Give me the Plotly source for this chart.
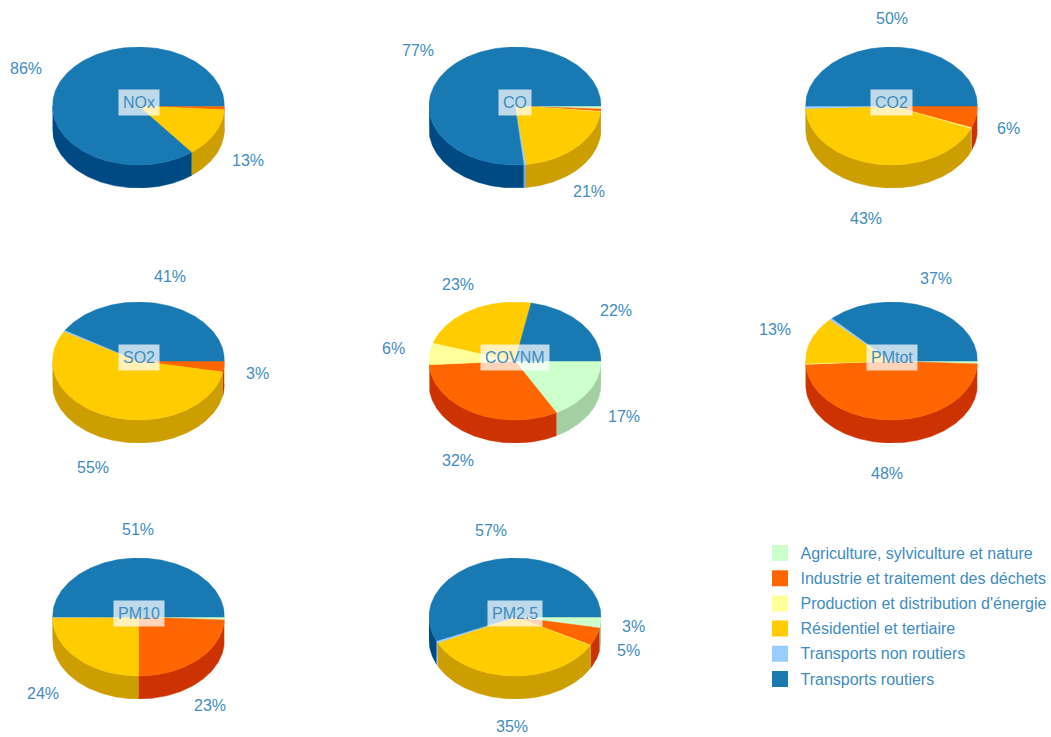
import numpy as np
import plotly.graph_objects as go

# ---- data (percent of regional emissions per sector) ----
SECTORS = ["Agriculture, sylviculture et nature", "Industrie et traitement des déchets",
           "Production et distribution d'énergie", "Résidentiel et tertiaire",
           "Transports non routiers", "Transports routiers"]
POLLUTANTS = ["NOx", "CO", "CO2", "SO2", "COVNM", "PMtot", "PM10", "PM2.5"]
NOX   = [0.1, 0.9, 0.0, 13.4, 0.0, 85.6]
CO    = [0.8, 0.7, 0.1, 21.4, 0.4, 76.6]
CO2   = [0.0, 6.0, 0.3, 43, 0.7, 50]
SO2   = [0.0, 3.0, 0.0, 55, 0.4, 41]
COVNM = [17, 32, 6, 23, 0.0, 22]
PMTOT = [0.8, 48, 0.3, 13, 0.5, 37]
PM10  = [0.8, 24.2, 0.0, 24.8, 0.2, 50]
PM25  = [3.0, 5.0, 0.1, 35, 0.5, 57]
VALUES = [NOX, CO, CO2, SO2, COVNM, PMTOT, PM10, PM25]
PCT_LABELS = [["86%", "13%"], ["77%", "21%"], ["50%", "6%", "43%"], ["41%", "3%", "55%"],
              ["22%", "17%", "32%", "6%", "23%"], ["37%", "13%", "48%"],
              ["51%", "23%", "24%"], ["57%", "3%", "5%", "35%"]]

# ---- styling and layout ----
W, H = 1051, 737
TOP = ["#ccffcc", "#ff6600", "#ffff99", "#ffcc00", "#99ccff", "#1879b3"]
WALL = ["#a3cfa3", "#cc3300", "#cccc7a", "#cc9e00", "#7aa3cc", "#004a84"]
TEXT = "#3f8cbf"
FONT = "Liberation Sans"
CENTERS = [(138.5, 106), (515, 106), (891.5, 106),
           (138.5, 361), (515, 361), (891.5, 361),
           (138.5, 617), (515, 617)]
RX, RY, DEPTH = 86, 59, 23
LABEL_XY = [[(26, 68), (248, 160)], [(418, 50), (589, 191)],
            [(892, 18), (1008, 129), (866, 218)], [(170, 276), (257, 373), (93, 467)],
            [(616, 310), (624, 416), (458, 460), (393, 349), (458, 284)],
            [(936, 279), (775, 329), (887, 474)], [(138, 529), (210, 705), (43, 693)],
            [(491, 530), (633, 626), (628, 650), (512, 726.5)]]
NAME_W_Y = -4  # name label sits slightly above the pie centre

px = lambda x: x / W
py = lambda y: 1 - y / H

fig = go.Figure()
layout = dict(width=W, height=H, margin=dict(l=0, r=0, t=0, b=0), showlegend=False,
              paper_bgcolor="white", plot_bgcolor="white", annotations=[])
depth_u = DEPTH / RY


def arc(a0, a1):
    t = np.radians(np.linspace(a0, a1, max(2, int(abs(a1 - a0)) + 2)))
    return np.cos(t), -np.sin(t)  # clockwise from 3 o'clock


def note(x, y, text, **kw):
    layout["annotations"].append(dict(
        x=px(x), y=py(y), xref="paper", yref="paper", text=text, showarrow=False,
        xanchor="center", yanchor="middle",
        font=dict(family=FONT, size=16, color=TEXT), **kw))


for i, (name, vals, (cx, cy)) in enumerate(zip(POLLUTANTS, VALUES, CENTERS)):
    ax = "" if i == 0 else str(i + 1)
    layout[f"xaxis{ax}"] = dict(domain=[px(cx - RX), px(cx + RX)], range=[-1, 1], visible=False,
                                anchor=f"y{ax}", fixedrange=True)
    layout[f"yaxis{ax}"] = dict(domain=[py(cy + RY + DEPTH), py(cy - RY)], range=[-1 - depth_u, 1],
                                visible=False, anchor=f"x{ax}", fixedrange=True)
    ends = np.cumsum(vals) / np.sum(vals) * 360
    starts = np.r_[0, ends[:-1]]
    # side walls: only the front half (0-180 degrees clockwise from 3 o'clock) is visible
    for s, (a0, a1) in enumerate(zip(starts, ends)):
        lo, hi = max(a0, 0), min(a1, 180)
        if hi > lo and vals[s] > 0:
            x, y = arc(lo, hi)
            fig.add_trace(go.Scatter(
                x=np.r_[x, x[::-1]], y=np.r_[y, y[::-1] - depth_u],
                xaxis=f"x{ax}", yaxis=f"y{ax}", mode="lines", fill="toself",
                fillcolor=WALL[s], line=dict(color=WALL[s], width=0.5), hoverinfo="skip"))
    # top faces
    for s, (a0, a1) in enumerate(zip(starts, ends)):
        if vals[s] > 0:
            x, y = arc(a0, a1)
            fig.add_trace(go.Scatter(
                x=np.r_[0, x, 0], y=np.r_[0, y, 0], xaxis=f"x{ax}", yaxis=f"y{ax}",
                mode="lines", fill="toself", fillcolor=TOP[s],
                line=dict(color=TOP[s], width=0.5), name=SECTORS[s], hoverinfo="skip"))
    # centre label
    note(cx, cy + NAME_W_Y, name, bgcolor="rgba(255,255,255,0.72)", borderpad=4)
    # percentage labels
    for txt, (lx, ly) in zip(PCT_LABELS[i], LABEL_XY[i]):
        note(lx, ly, txt)

# legend drawn as its own small panel
LX0, LX1, LY0, LY1 = 760, 1051, 540.4, 691.6
rows = list(range(len(SECTORS)))
layout["xaxis9"] = dict(domain=[px(LX0), px(LX1)], range=[LX0, LX1], visible=False, anchor="y9", fixedrange=True)
layout["yaxis9"] = dict(domain=[py(LY1), py(LY0)], range=[5.5, -0.5], visible=False, anchor="x9", fixedrange=True)
fig.add_trace(go.Scatter(x=[780] * 6, y=rows, xaxis="x9", yaxis="y9", mode="markers",
                         marker=dict(symbol="square", size=16, color=TOP, line=dict(width=0)),
                         hoverinfo="skip"))
fig.add_trace(go.Scatter(x=[800.5] * 6, y=[r + 0.06 for r in rows], xaxis="x9", yaxis="y9", mode="text", text=SECTORS,
                         textposition="middle right", hoverinfo="skip",
                         textfont=dict(family=FONT, size=16, color=TEXT)))

fig.update_layout(**layout)
fig.write_html("out.html", config={"displayModeBar": False},
               post_script="document.body.style.margin='0';document.documentElement.style.overflow='hidden';")
